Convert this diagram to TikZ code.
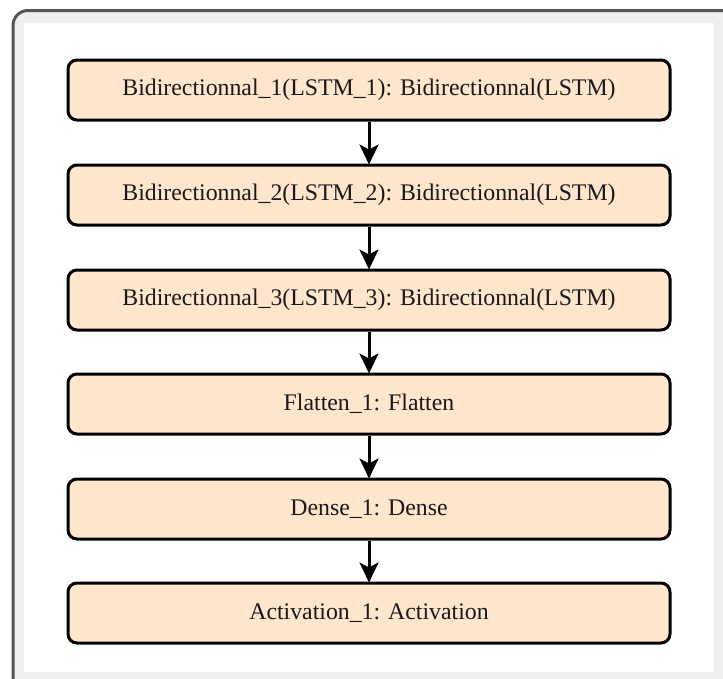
\documentclass[tikz,border=0pt]{standalone}
\usepackage{fontspec}
\setmainfont{Liberation Serif}
\usetikzlibrary{arrows.meta}
\definecolor{peach}{HTML}{FFE6CC}
\definecolor{framegray}{HTML}{555555}
\definecolor{bandgray}{HTML}{EFEFEF}
\begin{document}
\begin{tikzpicture}[x=1pt,y=-1pt,
  layer/.style={draw=black, line width=3pt, fill=peach, rounded corners=9pt,
    minimum width=602pt, minimum height=60pt, inner sep=0pt,
    font=\fontsize{23.8}{28}\selectfont, text=black!90},
  flow/.style={line width=3pt, -{Stealth[length=20pt,width=19pt,inset=5pt]}, shorten >=-1pt}]
\useasboundingbox (0,0) rectangle (723,678);
\begin{scope}
\clip (0,0) rectangle (723,678);
\fill[white] (0,0) rectangle (723,678);
\draw[framegray, line width=3pt, fill=bandgray, rounded corners=15pt] (13,10.5) rectangle (760,720);
\fill[white] (24,23) rectangle (714,672);
\end{scope}
\node[layer] (b1) at (369,90) {Bidirectionnal\_1(LSTM\_1): Bidirectionnal(LSTM)};
\node[layer] (b2) at (369,195) {Bidirectionnal\_2(LSTM\_2): Bidirectionnal(LSTM)};
\node[layer] (b3) at (369,300) {Bidirectionnal\_3(LSTM\_3): Bidirectionnal(LSTM)};
\node[layer] (f1) at (369,404) {Flatten\_1: Flatten};
\node[layer] (d1) at (369,509) {Dense\_1: Dense};
\node[layer] (a1) at (369,613) {Activation\_1: Activation};
\draw[flow] (b1) -- (b2);
\draw[flow] (b2) -- (b3);
\draw[flow] (b3) -- (f1);
\draw[flow] (f1) -- (d1);
\draw[flow] (d1) -- (a1);
\end{tikzpicture}
\end{document}
